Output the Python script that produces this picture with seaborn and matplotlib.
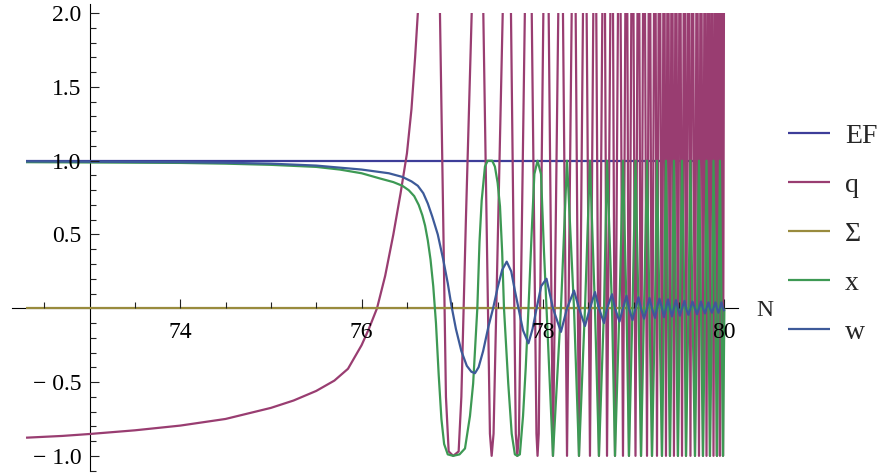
import numpy as np
import pandas as pd
import matplotlib
matplotlib.use('Agg')
import matplotlib.pyplot as plt
import seaborn as sns
from matplotlib.patches import Rectangle
from matplotlib.ticker import FixedLocator

# ========== DATA ==========
SERIES = ['EF', 'q', 'Σ', 'x', 'w']
COLORS = ['#3d3d99', '#993d71', '#998b3d', '#3d9954', '#3d5a99']

ef_N = [72.30, 80.0]
ef_val = [1.0, 1.0]

sigma_N = [72.30, 80.0]
sigma_val = [0.0, 0.0]

# q: slow rise, then dips down to -1 between divergences (values above 2 are clipped)
q_N = [72.30, 72.7, 73.0, 73.5, 74.0, 74.5, 75.0, 75.25, 75.5, 75.7, 75.85, 76.0,
       76.08, 76.17, 76.26, 76.35, 76.43, 76.5, 76.55, 76.59, 76.62, 76.74,
       76.864, 76.90, 76.93, 76.96, 77.01, 77.07, 77.10, 77.15, 77.214, 77.28,
       77.342, 77.415, 77.434, 77.455, 77.556, 77.60,
       77.647, 77.70, 77.717, 77.735, 77.80, 77.84,
       77.876, 77.928, 77.94, 77.953, 78.004]
q_val = [-0.877, -0.865, -0.852, -0.827, -0.795, -0.75, -0.675, -0.625, -0.56, -0.49, -0.41, -0.25,
         -0.14, 0.0, 0.22, 0.5, 0.78, 1.05, 1.35, 1.7, 2.0, 6.0,
         2.0, 0.6, -0.6, -0.97, -1.0, -0.97, -0.6, 0.6, 2.0, 6.0,
         2.0, -0.85, -1.0, -0.85, 2.0, 6.0,
         2.0, -0.85, -1.0, -0.85, 2.0, 6.0,
         2.0, -0.85, -1.0, -0.85, 2.0]

x_N = [72.30, 73.0, 74.0, 74.5, 75.0, 75.5, 75.76, 76.0, 76.2, 76.35, 76.45, 76.52,
       76.58, 76.63, 76.67, 76.70, 76.73, 76.76, 76.79, 76.82, 76.85, 76.88, 76.91,
       76.95, 77.01, 77.08, 77.14, 77.195, 77.23, 77.276, 77.30, 77.324, 77.36, 77.39,
       77.44, 77.47, 77.50, 77.526, 77.55, 77.57, 77.617, 77.655, 77.69, 77.717,
       77.745, 77.78, 77.81, 77.84, 77.875, 77.905, 77.94, 77.978, 78.01]
x_val = [0.990, 0.988, 0.985, 0.980, 0.972, 0.958, 0.94, 0.915, 0.88, 0.855, 0.83, 0.80,
         0.76, 0.70, 0.63, 0.56, 0.46, 0.33, 0.15, -0.10, -0.45, -0.75, -0.92,
         -0.99, -1.0, -0.99, -0.95, -0.73, -0.51, 0.0, 0.45, 0.73, 0.96, 1.0,
         1.0, 0.96, 0.85, 0.69, 0.38, 0.0, -0.51, -0.85, -0.99, -1.0,
         -0.99, -0.73, -0.4, 0.0, 0.51, 0.91, 1.0, 0.91, 0.40]

w_N = [72.30, 73.0, 74.0, 74.5, 75.0, 75.5, 76.0, 76.3, 76.45, 76.55, 76.62, 76.68,
       76.73, 76.78, 76.84, 76.90, 76.95, 76.99, 77.04, 77.10, 77.16, 77.21, 77.25,
       77.29, 77.34, 77.40, 77.45, 77.50, 77.55, 77.60, 77.65, 77.69, 77.73, 77.78,
       77.84, 77.885, 77.93, 77.98]
w_val = [0.995, 0.993, 0.99, 0.986, 0.98, 0.967, 0.94, 0.915, 0.89, 0.86, 0.83, 0.78,
         0.71, 0.62, 0.50, 0.33, 0.17, 0.02, -0.14, -0.29, -0.39, -0.43, -0.44,
         -0.40, -0.29, -0.12, 0.0, 0.14, 0.26, 0.316, 0.25, 0.12, 0.0, -0.15,
         -0.237, -0.14, 0.0, 0.15]

# fast oscillation after N~78: turning points of x / zero crossings of x
fast_N = [78.039, 78.110, 78.198, 78.265, 78.342, 78.397, 78.463, 78.518, 78.573, 78.617,
          78.673, 78.706, 78.761, 78.794, 78.843, 78.882, 78.921, 78.948, 78.987, 79.020,
          79.053, 79.081, 79.114, 79.147, 79.174, 79.202, 79.235, 79.257, 79.284, 79.312,
          79.334, 79.356, 79.378, 79.400, 79.422, 79.444, 79.466, 79.488, 79.510, 79.533,
          79.560, 79.577, 79.604, 79.626, 79.648, 79.676, 79.698, 79.720, 79.742, 79.764,
          79.786, 79.803, 79.825, 79.841, 79.863, 79.880, 79.902, 79.918, 79.935, 79.951,
          79.968, 79.985, 80.000]
fast_x = [0, -1, 0, 1, 0, -1, 0, 1, 0, -1,
          0, 1, 0, -1, 0, 1, 0, -1, 0, 1,
          0, -1, 0, 1, 0, -1, 0, 1, 0, -1,
          0, 1, 0, -1, 0, 1, 0, -1, 0, 1,
          0, -1, 0, 1, 0, -1, 0, 1, 0, -1,
          0, 1, 0, -1, 0, 1, 0, -1, 0, 1,
          0, -1, 0]
fast_q = [3.5, -1, 3.5, -1, 3.5, -1, 3.5, -1, 3.5, -1,
          3.5, -1, 3.5, -1, 3.5, -1, 3.5, -1, 3.5, -1,
          3.5, -1, 3.5, -1, 3.5, -1, 3.5, -1, 3.5, -1,
          3.5, -1, 3.5, -1, 3.5, -1, 3.5, -1, 3.5, -1,
          3.5, -1, 3.5, -1, 3.5, -1, 3.5, -1, 3.5, -1,
          3.5, -1, 3.5, -1, 3.5, -1, 3.5, -1, 3.5, -1,
          3.5, -1, 3.5]
fast_w = [0.20, 0, -0.16, 0, 0.12, 0, -0.12, 0, 0.11, 0,
          -0.10, 0, 0.095, 0, -0.09, 0, 0.085, 0, -0.08, 0,
          0.075, 0, -0.07, 0, 0.07, 0, -0.065, 0, 0.065, 0,
          -0.06, 0, 0.06, 0, -0.055, 0, 0.055, 0, -0.05, 0,
          0.05, 0, -0.045, 0, 0.045, 0, -0.04, 0, 0.045, 0,
          -0.035, 0, 0.04, 0, -0.03, 0, 0.04, 0, -0.03, 0,
          0.04, 0, -0.02]

Y_TICKS = [-1.0, -0.5, 0.5, 1.0, 1.5, 2.0]
Y_LABELS = ['\u2212 1.0', '\u2212 0.5', '0.5', '1.0', '1.5', '2.0']
X_TICKS = [74, 76, 78, 80]
X_MINOR = [72.5, 73.5, 74.5, 75.0, 75.5, 76.5, 77.0, 77.5, 78.5, 79.0, 79.5]
Y_MINOR = [-1.1, -0.9, -0.8, -0.7, -0.6, -0.4, -0.3, -0.2, -0.1,
           0.1, 0.2, 0.3, 0.4, 0.6, 0.7, 0.8, 0.9, 1.1, 1.2, 1.3, 1.4,
           1.6, 1.7, 1.8, 1.9]

# ========== LONG TABLE ==========
parts = [
    pd.DataFrame({'N': ef_N, 'value': ef_val, 'series': 'EF'}),
    pd.DataFrame({'N': q_N + fast_N, 'value': q_val + fast_q, 'series': 'q'}),
    pd.DataFrame({'N': sigma_N, 'value': sigma_val, 'series': 'Σ'}),
    pd.DataFrame({'N': x_N + fast_N, 'value': x_val + fast_x, 'series': 'x'}),
    pd.DataFrame({'N': w_N + fast_N, 'value': w_val + fast_w, 'series': 'w'}),
]
df = pd.concat(parts, ignore_index=True)

# ========== PLOT ==========
sns.set_style('ticks')
plt.rcParams['font.family'] = ['Liberation Serif', 'DejaVu Serif']
plt.rcParams['xtick.direction'] = 'in'
plt.rcParams['ytick.direction'] = 'in'

fig = plt.figure(figsize=(8.82, 4.74), dpi=100)
ax = fig.add_axes([0, 0, 1, 1])
ax.patch.set_alpha(0)

sns.lineplot(data=df, x='N', y='value', hue='series', hue_order=SERIES,
             palette=COLORS, estimator=None, sort=False, legend=False,
             linewidth=1.6, ax=ax)

# Mathematica-like plot range clipping at y = 2
clip = Rectangle((72.0, -1.5), 9.0, 3.5, transform=ax.transData)
for ln in ax.lines:
    ln.set_clip_path(clip)
    ln.set_solid_capstyle('butt')
    ln.set_solid_joinstyle('round')

ax.set_xlim(72.013, 81.738)
ax.set_ylim(-1.123, 2.089)

# axes crossing at (73, 0)
for side in ['top', 'right']:
    ax.spines[side].set_visible(False)
ax.spines['left'].set_position(('data', 73))
ax.spines['bottom'].set_position(('data', 0))
ax.spines['left'].set_bounds(-1.10, 2.06)
ax.spines['bottom'].set_bounds(72.145, 80.15)
for side in ['left', 'bottom']:
    ax.spines[side].set_color('black')
    ax.spines[side].set_linewidth(0.8)
    ax.spines[side].set_zorder(0.5)
# tick labels drawn above the curves, like the original
ax.set_axisbelow(False)

ax.xaxis.set_major_locator(FixedLocator(X_TICKS))
ax.xaxis.set_minor_locator(FixedLocator(X_MINOR))
ax.yaxis.set_major_locator(FixedLocator(Y_TICKS))
ax.set_yticklabels(Y_LABELS)
ax.yaxis.set_minor_locator(FixedLocator(Y_MINOR))
ax.tick_params(which='both', direction='in', color='#222222', width=0.8,
               bottom=True, left=True, top=False, right=False,
               labelsize=17, labelcolor='black')
ax.tick_params(which='major', length=6.5)
ax.tick_params(which='minor', length=4.2)
ax.tick_params(axis='x', which='major', pad=10)
ax.tick_params(axis='y', which='major', pad=6)
ax.set_xlabel('')
ax.set_ylabel('')
ax.text(80.45, -0.015, 'N', fontsize=17, ha='center', va='center')

# legend on the right
leg = ax.legend(ax.lines, SERIES, loc='center left',
                bbox_to_anchor=(788 / 882, 1 - 234 / 474), bbox_transform=fig.transFigure,
                frameon=False, fontsize=20, handlelength=1.5, handletextpad=0.55,
                labelspacing=0.85, borderpad=0, borderaxespad=0)

plt.savefig('out.png', dpi=100)
